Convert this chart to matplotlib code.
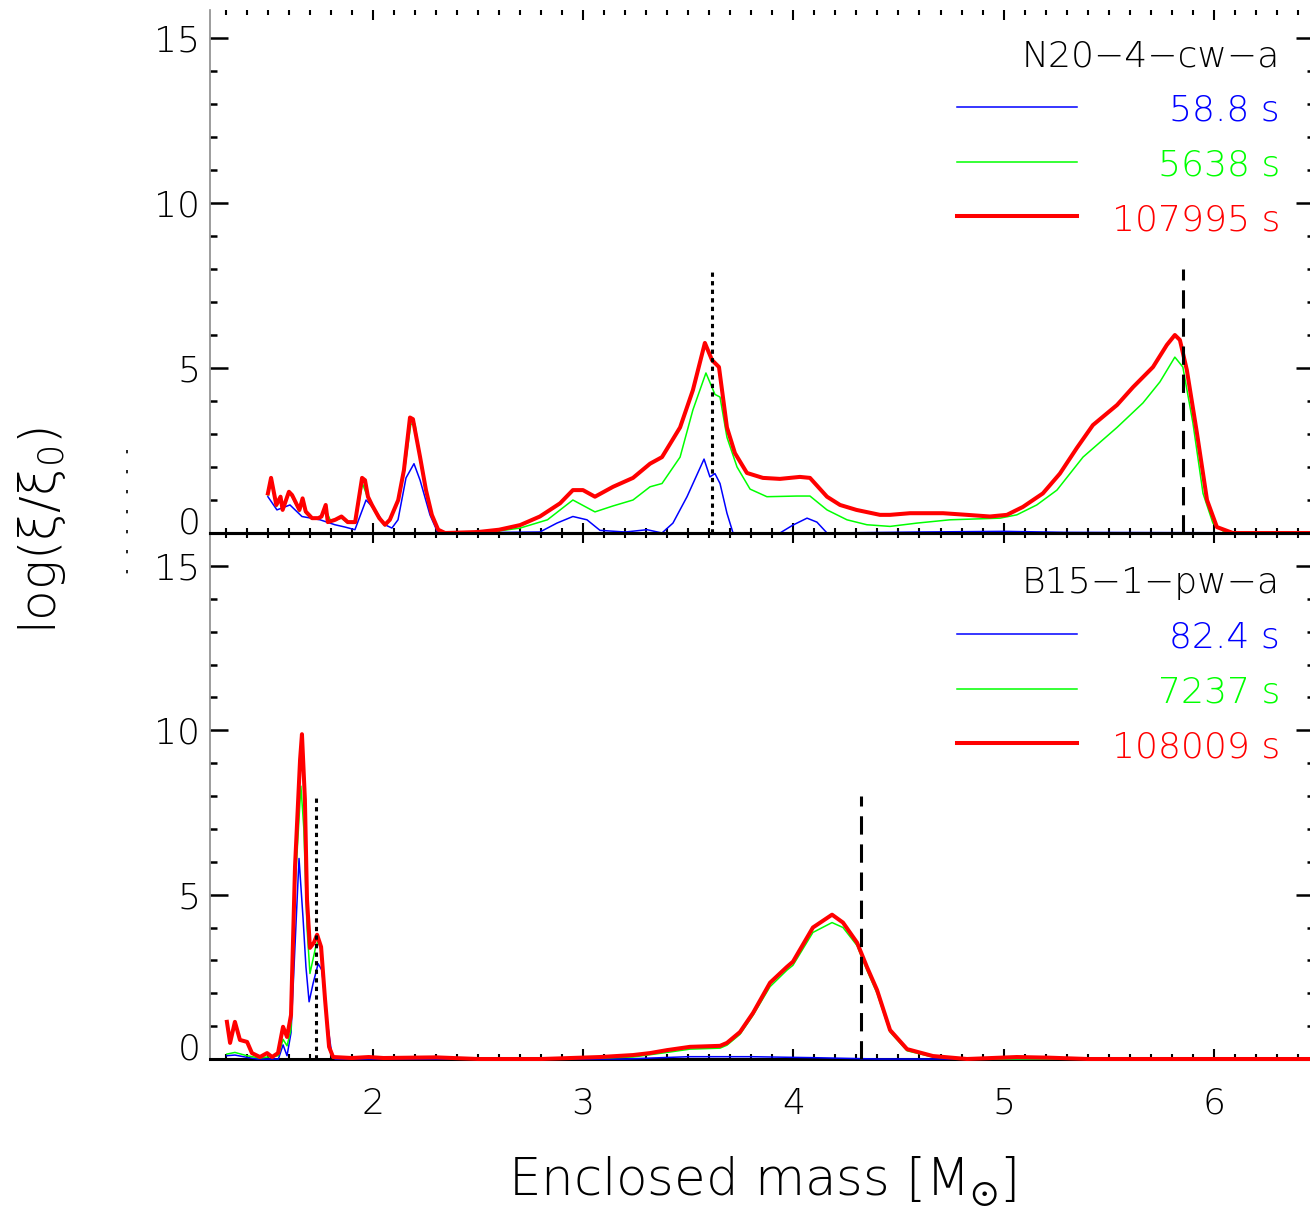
import numpy as np
import matplotlib
matplotlib.use("Agg")
import matplotlib.pyplot as plt
from matplotlib.lines import Line2D
from matplotlib.ticker import MultipleLocator

plt.rcParams['font.family'] = ['DejaVu Sans']
plt.rcParams['font.weight'] = 'light'
plt.rcParams['axes.labelweight'] = 'light'
plt.rcParams['mathtext.default'] = 'regular'

# ---- N20-4-cw-a (위 패널) ----
n20_name = "N20\u22124\u2212cw\u2212a"
n20_times = ["58.8 s", "5638 s", "107995 s"]

n20_blue_m = [1.50, 1.543, 1.605, 1.662, 1.748, 1.819, 1.867, 1.914, 1.967, 2.01,
              2.057, 2.09, 2.119, 2.157, 2.195, 2.224, 2.271, 2.309, 2.794, 2.875,
              2.951, 3.018, 3.08, 3.20, 3.304, 3.375, 3.427, 3.494, 3.575, 3.603,
              3.627, 3.651, 3.684, 3.713, 3.936, 3.998, 4.065, 4.112, 4.16, 4.6,
              5.0, 5.3, 6.48]
n20_blue_xi = [1.1, 0.7, 0.85, 0.5, 0.4, 0.25, 0.18, 0.1, 1.0, 0.7,
               0.25, 0.15, 0.4, 1.67, 2.1, 1.6, 0.55, 0.0, 0.03, 0.3,
               0.5, 0.4, 0.08, 0.03, 0.1, 0.0, 0.3, 1.1, 2.24, 1.7,
               1.8, 1.5, 0.6, 0.0, 0.0, 0.24, 0.45, 0.33, 0.0, 0.03,
               0.05, 0.02, 0.0]

n20_green_m = [1.50, 1.515, 1.54, 1.56, 1.57, 1.60, 1.615, 1.65, 1.665, 1.68,
               1.71, 1.74, 1.775, 1.80, 1.85, 1.88, 1.915, 1.95, 1.976, 1.995,
               2.03, 2.057, 2.08, 2.12, 2.15, 2.18, 2.20, 2.224, 2.252, 2.28,
               2.31, 2.343, 2.55, 2.70, 2.83, 2.951, 3.056, 3.142, 3.237, 3.318,
               3.375, 3.461, 3.522, 3.584, 3.627, 3.651, 3.684, 3.732, 3.794, 3.874,
               4.017, 4.079, 4.160, 4.255, 4.35, 4.46, 4.588, 4.745, 4.983, 5.063,
               5.158, 5.254, 5.378, 5.54, 5.663, 5.744, 5.815, 5.853, 5.901, 5.949,
               5.996, 6.05, 6.48]
n20_green_xi = [1.15, 1.55, 0.8, 1.05, 0.7, 1.2, 1.1, 0.65, 0.95, 0.6,
                0.42, 0.42, 0.7, 0.35, 0.45, 0.3, 0.3, 1.5, 1.05, 0.8,
                0.42, 0.22, 0.38, 0.95, 1.9, 3.3, 3.3, 2.2, 1.25, 0.5,
                0.08, 0.0, 0.02, 0.15, 0.4, 1.0, 0.64, 0.82, 1.0, 1.4,
                1.5, 2.3, 3.73, 4.85, 4.2, 4.12, 2.9, 2.0, 1.33, 1.1,
                1.12, 1.12, 0.7, 0.4, 0.25, 0.2, 0.3, 0.4, 0.45, 0.55,
                0.85, 1.3, 2.3, 3.2, 3.94, 4.58, 5.33, 5.03, 3.33, 1.2,
                0.3, 0.03, 0.0]

n20_red_m = [1.50, 1.515, 1.54, 1.56, 1.57, 1.60, 1.615, 1.65, 1.665, 1.68,
             1.71, 1.74, 1.755, 1.775, 1.785, 1.82, 1.85, 1.88, 1.915, 1.948,
             1.962, 1.976, 1.995, 2.03, 2.057, 2.08, 2.12, 2.147, 2.176, 2.19,
             2.224, 2.252, 2.28, 2.31, 2.343, 2.50, 2.60, 2.70, 2.794, 2.89,
             2.951, 2.999, 3.056, 3.142, 3.237, 3.318, 3.375, 3.461, 3.522, 3.579,
             3.613, 3.646, 3.684, 3.722, 3.779, 3.855, 3.936, 4.031, 4.079, 4.160,
             4.222, 4.30, 4.412, 4.46, 4.555, 4.712, 4.826, 4.935, 5.016, 5.092,
             5.187, 5.268, 5.349, 5.425, 5.54, 5.616, 5.711, 5.777, 5.815, 5.839,
             5.872, 5.92, 5.968, 6.015, 6.091, 6.48]
n20_red_xi = [1.2, 1.67, 0.85, 1.1, 0.7, 1.25, 1.15, 0.7, 1.05, 0.65,
              0.45, 0.45, 0.5, 0.85, 0.33, 0.4, 0.5, 0.33, 0.33, 1.67,
              1.6, 1.1, 0.85, 0.45, 0.25, 0.4, 1.0, 1.9, 3.5, 3.45,
              2.3, 1.3, 0.55, 0.1, 0.0, 0.03, 0.1, 0.24, 0.5, 0.9,
              1.3, 1.3, 1.1, 1.4, 1.67, 2.1, 2.3, 3.2, 4.33, 5.76,
              5.24, 5.03, 3.2, 2.42, 1.82, 1.67, 1.64, 1.7, 1.67, 1.1,
              0.85, 0.7, 0.55, 0.55, 0.6, 0.6, 0.55, 0.5, 0.55, 0.79,
              1.2, 1.8, 2.58, 3.27, 3.88, 4.42, 5.03, 5.7, 6.0, 5.85,
              4.94, 3.03, 1.0, 0.18, 0.0, 0.0]

n20_dotted_m = 3.613
n20_dashed_m = 5.853

# ---- B15-1-pw-a (아래 패널) ----
b15_name = "B15\u22121\u2212pw\u2212a"
b15_times = ["82.4 s", "7237 s", "108009 s"]

b15_blue_m = [1.305, 1.343, 1.40, 1.45, 1.55, 1.572, 1.591, 1.61, 1.648, 1.667,
              1.681, 1.696, 1.715, 1.739, 1.757, 1.781, 1.805, 1.82, 3.2, 3.5,
              3.8, 4.1, 4.4, 6.48]
b15_blue_xi = [0.1, 0.12, 0.05, 0.0, 0.0, 0.43, 0.1, 0.8, 6.1, 4.3,
               2.8, 1.74, 2.3, 2.9, 2.7, 1.2, 0.1, 0.0, 0.0, 0.07,
               0.07, 0.04, 0.0, 0.0]

b15_green_m = [1.305, 1.343, 1.40, 1.46, 1.55, 1.572, 1.591, 1.61, 1.629, 1.657,
               1.671, 1.686, 1.70, 1.727, 1.739, 1.753, 1.772, 1.791, 1.81, 3.08,
               3.237, 3.399, 3.508, 3.651, 3.684, 3.746, 3.808, 3.889, 3.969, 3.998,
               4.093, 4.184, 4.236, 4.303, 4.35, 4.398, 4.46, 4.541, 4.664, 4.826,
               6.48]
b15_green_xi = [0.15, 0.2, 0.1, 0.03, 0.1, 0.6, 0.4, 0.9, 5.2, 8.3,
                7.0, 4.0, 2.6, 3.4, 3.6, 3.3, 1.7, 0.3, 0.03, 0.03,
                0.06, 0.2, 0.3, 0.33, 0.42, 0.75, 1.33, 2.2, 2.7, 2.85,
                3.85, 4.15, 4.0, 3.45, 2.7, 2.0, 0.82, 0.25, 0.06, 0.0,
                0.0]

b15_red_m = [1.305, 1.32, 1.343, 1.367, 1.401, 1.424, 1.462, 1.496, 1.52, 1.548,
             1.572, 1.591, 1.61, 1.629, 1.653, 1.662, 1.676, 1.686, 1.70, 1.719,
             1.734, 1.753, 1.772, 1.791, 1.81, 1.90, 1.98, 2.05, 2.30, 2.50,
             2.80, 3.08, 3.237, 3.318, 3.399, 3.508, 3.651, 3.684, 3.746, 3.808,
             3.889, 3.969, 3.998, 4.093, 4.184, 4.236, 4.303, 4.35, 4.398, 4.46,
             4.541, 4.664, 4.826, 5.063, 5.22, 5.40, 6.48]
b15_red_xi = [1.13, 0.49, 1.13, 0.58, 0.52, 0.18, 0.06, 0.18, 0.06, 0.18,
              0.98, 0.67, 1.34, 5.85, 9.1, 9.88, 7.9, 4.85, 3.38, 3.54,
              3.78, 3.41, 1.8, 0.37, 0.06, 0.03, 0.06, 0.03, 0.05, 0.0,
              0.0, 0.06, 0.12, 0.18, 0.27, 0.37, 0.4, 0.49, 0.82, 1.4,
              2.32, 2.8, 2.96, 4.0, 4.39, 4.15, 3.54, 2.8, 2.1, 0.88,
              0.3, 0.09, 0.0, 0.06, 0.04, 0.0, 0.0]

b15_dotted_m = 1.727
b15_dashed_m = 4.322

line_top = 8.0
x_range = (1.2245, 6.477)
colors = ["#0000ff", "#00ff00", "#ff0000"]
widths = [1.1, 1.1, 2.9]

fig = plt.figure(figsize=(13.1, 12.08), dpi=100)
W, H = 1310.0, 1208.0
ax_top = fig.add_axes([210 / W, 1 - 533 / H, 1104 / W, 523 / H])
ax_bot = fig.add_axes([210 / W, 1 - 1059 / H, 1104 / W, 526 / H])


def setup_axis(ax, ymax, show_xlabels):
    ax.set_xlim(*x_range)
    ax.set_ylim(0, ymax)
    ax.xaxis.set_major_locator(MultipleLocator(1))
    ax.xaxis.set_minor_locator(MultipleLocator(0.1))
    ax.set_yticks([0, 5, 10, 15])
    ax.yaxis.set_minor_locator(MultipleLocator(1))
    ax.tick_params(axis='x', which='both', direction='in', top=True, bottom=True,
                   width=1.5, labelbottom=show_xlabels, labelsize=26, pad=20)
    ax.tick_params(axis='x', which='major', length=7.5)
    ax.tick_params(axis='x', which='minor', length=3.5)
    ax.tick_params(axis='y', which='both', direction='in', left=True, right=True,
                   width=1.8, labelsize=26, pad=7)
    ax.tick_params(axis='y', which='major', length=13)
    ax.tick_params(axis='y', which='minor', length=5)
    ax.spines['right'].set_visible(False)
    ax.spines['left'].set_color('#8c8c8c')
    ax.spines['left'].set_linewidth(1.2)
    ax.spines['bottom'].set_linewidth(2.2)
    ax.spines['top'].set_linewidth(2.2)
    # 0 라벨은 축선 위에 올려놓기
    ax.yaxis.get_major_ticks()[0].label1.set_verticalalignment('baseline')
    ax.patch.set_alpha(0)


setup_axis(ax_top, 15.85, False)
setup_axis(ax_bot, 16.0, True)
ax_top.spines['top'].set_visible(False)

panels = [
    (ax_top, n20_name, n20_times,
     [(n20_blue_m, n20_blue_xi), (n20_green_m, n20_green_xi), (n20_red_m, n20_red_xi)],
     n20_dotted_m, n20_dashed_m,
     [0.8929, 0.7878, 0.6845, 0.5793], [0.8145, 0.7094, 0.6061]),
    (ax_bot, b15_name, b15_times,
     [(b15_blue_m, b15_blue_xi), (b15_green_m, b15_green_xi), (b15_red_m, b15_red_xi)],
     b15_dotted_m, b15_dashed_m,
     [0.8859, 0.7814, 0.6787, 0.5741], [0.8080, 0.7034, 0.6008]),
]

for ax, name, times, curves, m_dot, m_dash, text_y, line_y in panels:
    for (m, xi), c, lw in zip(curves, colors, widths):
        ax.plot(m, xi, color=c, lw=lw, zorder=3, clip_on=False)

    # 경계 위치 표시
    ax.plot([m_dot, m_dot], [0, line_top], color='k', lw=2.2,
            dashes=(1.4, 1.4), zorder=4)
    ax.plot([m_dash, m_dash], [0, line_top], color='k', lw=2.2,
            dashes=(6.0, 3.2), zorder=4)

    # 범례 (선 + 오른쪽 정렬 텍스트)
    ax.text(0.9692, text_y[0], name, transform=ax.transAxes, ha='right',
            va='baseline', fontsize=26, color='black')
    for t, ty, ly, c, lw in zip(times, text_y[1:], line_y, colors, widths):
        ax.plot([0.6766, 0.7853], [ly, ly], transform=ax.transAxes,
                color=c, lw=lw)
        ax.text(0.9692, ty, t, transform=ax.transAxes, ha='right',
                va='baseline', fontsize=26, color=c)

ax_bot.set_xlabel('Enclosed mass [M$_{\\odot}$]', fontsize=37,
                  fontweight='light', labelpad=24)
fig.text(42 / W, 1 - 530 / H, 'log(\u03be/\u03be$_0$)', rotation=90,
         ha='center', va='center', fontsize=36)

# 왼쪽 끝의 점선 눈금
fig.add_artist(Line2D([127 / W, 127 / W], [1 - 450 / H, 1 - 585 / H],
                      transform=fig.transFigure, color='k', lw=1.2,
                      dashes=(2, 10)))

fig.savefig('out.png', dpi=100)
